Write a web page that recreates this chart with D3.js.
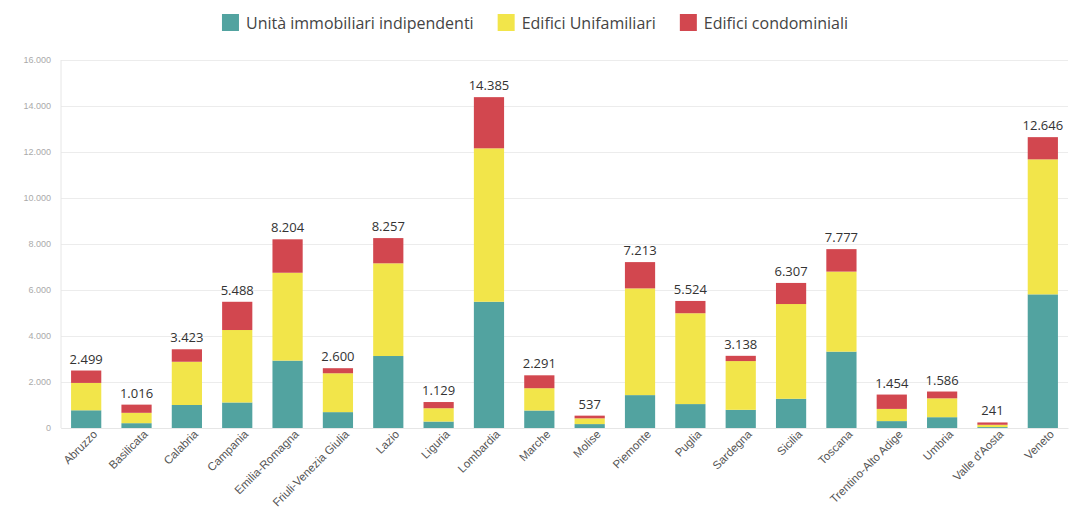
<!DOCTYPE html>
<html lang="it">
<head>
<meta charset="utf-8">
<title>Interventi per regione</title>
<script src="https://cdn.jsdelivr.net/npm/d3@7"></script>
<style>
  body { margin: 0; background: #fff; font-family: "Open Sans", "Noto Sans", sans-serif; }
  .grid line { stroke: #ececec; }
  .grid path { display: none; }
  .yaxis text { fill: #aaa; font-size: 9px; }
  .xaxis text { fill: #555; font-size: 11.5px; }
  .total { fill: #333; font-size: 13px; text-anchor: middle; }
  .legend text { fill: #444; font-size: 16px; }
</style>
</head>
<body>
<script>
// regions
var regioni = ["Abruzzo", "Basilicata", "Calabria", "Campania", "Emilia-Romagna",
  "Friuli-Venezia Giulia", "Lazio", "Liguria", "Lombardia", "Marche", "Molise",
  "Piemonte", "Puglia", "Sardegna", "Sicilia", "Toscana", "Trentino-Alto Adige",
  "Umbria", "Valle d'Aosta", "Veneto"];

// series
var unitaIndipendenti = [770, 210, 1000, 1110, 2930, 690, 3130, 280, 5490, 760, 170,
  1430, 1040, 790, 1270, 3320, 300, 470, 40, 5810];
var edificiUnifamiliari = [1190, 450, 1880, 3150, 3820, 1690, 4030, 580, 6670, 970, 250,
  4640, 3950, 2120, 4120, 3480, 530, 820, 100, 5870];
var edificiCondominiali = [539, 356, 543, 1228, 1454, 220, 1097, 269, 2225, 561, 117,
  1143, 534, 228, 917, 977, 624, 296, 101, 966];

var serie = ["Unità immobiliari indipendenti", "Edifici Unifamiliari", "Edifici condominiali"];
var colori = ["#52a3a0", "#f2e54a", "#d2474f"];
var yTicks = [0, 2000, 4000, 6000, 8000, 10000, 12000, 14000, 16000];

var w = 1070, h = 532;

var it = d3.formatLocale({decimal: ",", thousands: ".", grouping: [3], currency: ["€", ""]});
var fmt = it.format(",d");

var svg = d3.select("body").append("svg")
  .attr("width", w)
  .attr("height", h);

var rows = regioni.map(function(r, i) {
  return {regione: r, a: unitaIndipendenti[i], b: edificiUnifamiliari[i], c: edificiCondominiali[i]};
});

var xScale = d3.scaleBand()
  .domain(regioni)
  .range([61, 1068])
  .paddingInner(0.4)
  .paddingOuter(0.2);

var yScale = d3.scaleLinear()
  .domain([0, 16000])
  .range([428, 60]);

// gridlines
svg.append("g")
  .attr("class", "grid")
  .attr("transform", "translate(61,0)")
  .call(d3.axisLeft(yScale).tickValues(yTicks).tickSize(-1007).tickFormat(""));

// y axis line
svg.append("line")
  .attr("x1", 61).attr("x2", 61)
  .attr("y1", yScale(16000)).attr("y2", yScale(0))
  .attr("stroke", "#e6e6e6");

svg.append("g")
  .attr("class", "yaxis")
  .attr("transform", "translate(54,0)")
  .call(d3.axisLeft(yScale).tickValues(yTicks).tickSize(0).tickFormat(fmt))
  .call(function(g) { g.select(".domain").remove(); });

var stack = d3.stack().keys(["a", "b", "c"]);
var layers = stack(rows);

svg.append("g").selectAll("g")
  .data(layers)
  .enter().append("g")
  .attr("fill", function(d, i) { return colori[i]; })
  .selectAll("rect")
  .data(function(d) { return d; })
  .enter().append("rect")
  .attr("x", function(d) { return xScale(d.data.regione); })
  .attr("y", function(d) { return yScale(d[1]); })
  .attr("width", xScale.bandwidth())
  .attr("height", function(d) { return yScale(d[0]) - yScale(d[1]); });

// totals
svg.append("g").selectAll("text")
  .data(rows)
  .enter().append("text")
  .attr("class", "total")
  .attr("x", function(d) { return xScale(d.regione) + xScale.bandwidth() / 2; })
  .attr("y", function(d) { return yScale(d.a + d.b + d.c) - 7; })
  .text(function(d) { return fmt(d.a + d.b + d.c); });

// x axis
var xAxis = svg.append("g")
  .attr("class", "xaxis")
  .attr("transform", "translate(0,428)")
  .call(d3.axisBottom(xScale).tickSize(0));
xAxis.select(".domain").attr("stroke", "#e6e6e6");
xAxis.selectAll("text")
  .attr("text-anchor", "end")
  .attr("dx", "0.3em")
  .attr("dy", "0.9em")
  .attr("transform", "rotate(-45)");

// legend, laid out one item after the other and centred
var legend = svg.append("g").attr("class", "legend");
var items = [];
var cursor = 0;
serie.forEach(function(s, i) {
  var g = legend.append("g");
  g.append("rect").attr("y", -1).attr("width", 17).attr("height", 17).attr("fill", colori[i]);
  var t = g.append("text").attr("x", 24).attr("y", 13.5).text(s);
  g.attr("transform", "translate(" + cursor + ",0)");
  cursor += 24 + t.node().getComputedTextLength() + 24;
});
var legendWidth = cursor - 24;
legend.attr("transform", "translate(" + (535 - legendWidth / 2) + ",15)");
</script>
</body>
</html>
